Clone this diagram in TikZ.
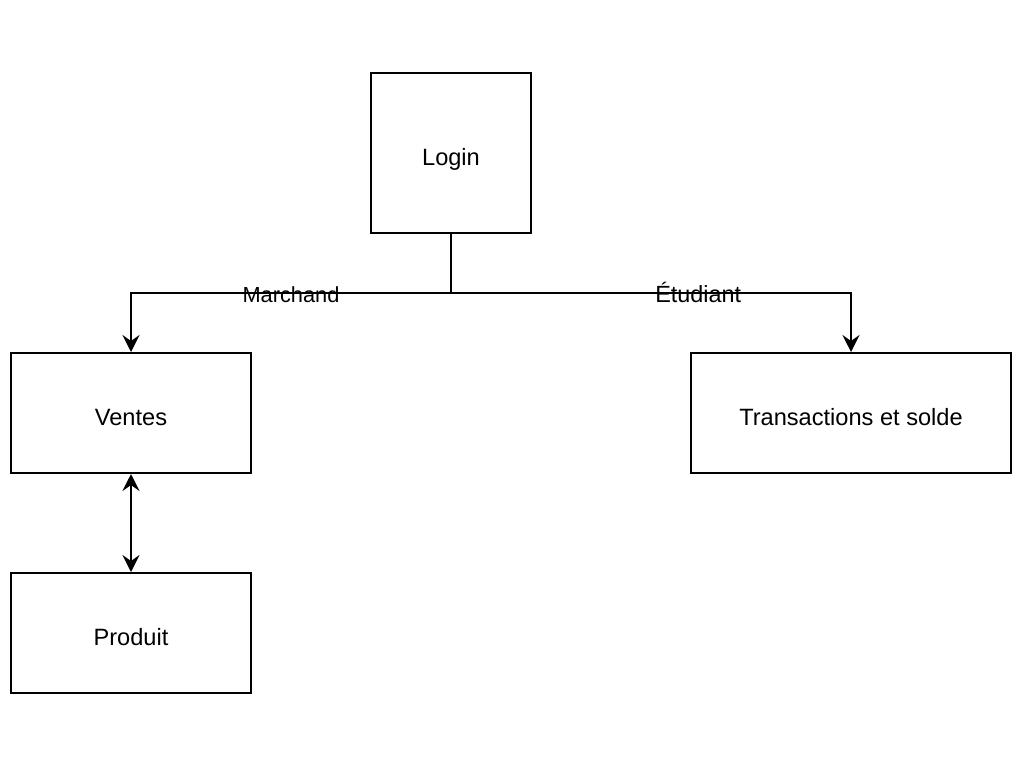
\documentclass[tikz,border=0pt]{standalone}
\usepackage{fontspec}
\setmainfont{Liberation Sans}
\usetikzlibrary{arrows.meta}
\begin{document}
\begin{tikzpicture}[x=1pt,y=-1pt,
  box/.style={draw,line width=2pt,rectangle,inner sep=0pt,font=\fontsize{23.6}{28}\selectfont,text height=24pt,text depth=0pt},
  conn/.style={line width=2pt},
  tip/.tip={Stealth[length=17pt,width=17pt,inset=6pt]},
  arr/.style={conn,-tip},
  darr/.style={conn,tip-tip},
  lbl/.style={anchor=base,yshift=-9.5pt,inner sep=0pt}]
\useasboundingbox (0,0) rectangle (1024,768);
\node[box,minimum width=160pt,minimum height=160pt] (login) at (451,153) {Login};
\node[box,minimum width=240pt,minimum height=120pt] (ventes) at (131,413) {Ventes};
\node[box,minimum width=320pt,minimum height=120pt] (trans) at (851,413) {Transactions et solde};
\node[box,minimum width=240pt,minimum height=120pt] (produit) at (131,633) {Produit};
\coordinate (j) at (451,293);
\draw[conn] (login.south) -- (j);
\draw[arr] (j) -| node[lbl,pos=0.25,font=\fontsize{21.8}{26}\selectfont]{Marchand} (ventes.north);
\draw[arr] (j) -| node[lbl,pos=0.309,font=\fontsize{23.4}{28}\selectfont]{Étudiant} (trans.north);
\draw[darr] (ventes.south) -- (produit.north);
\end{tikzpicture}
\end{document}
